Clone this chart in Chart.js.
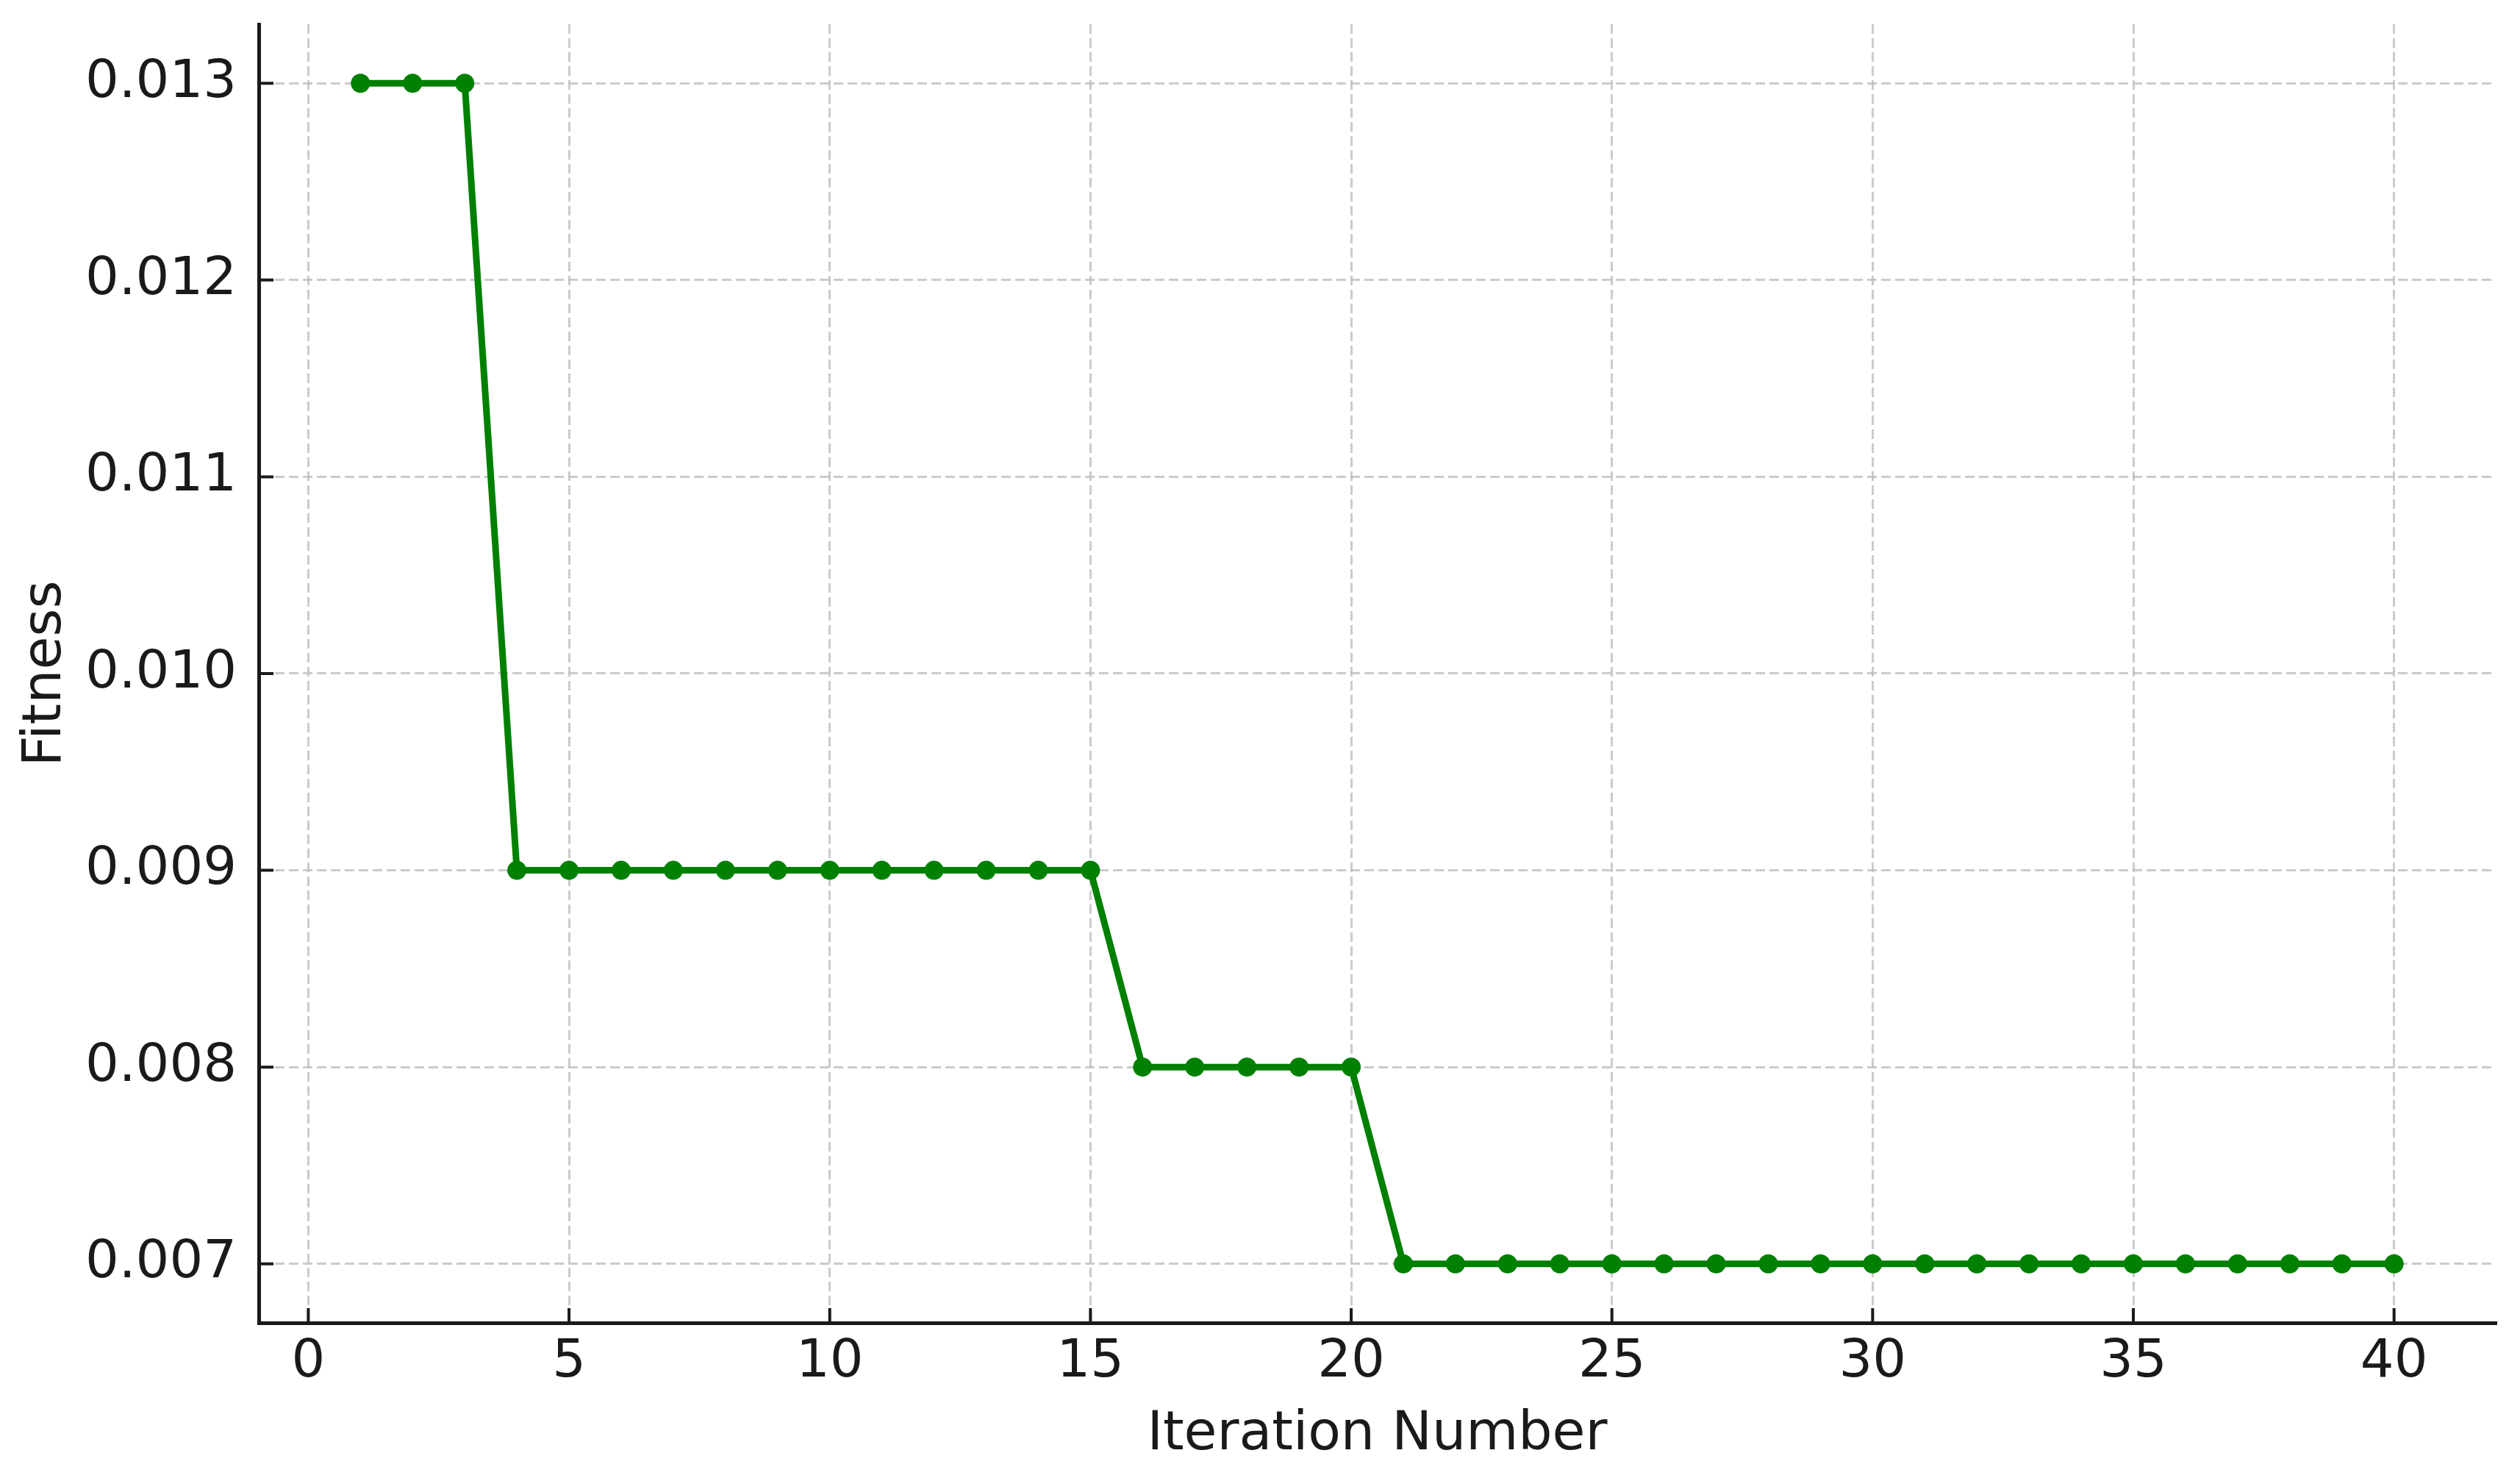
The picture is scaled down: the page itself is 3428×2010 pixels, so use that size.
<!DOCTYPE html>
<html>
<head>
<meta charset="utf-8">
<title>Fitness vs Iteration</title>
<script src="https://cdn.jsdelivr.net/npm/chart.js@4.4.1/dist/chart.umd.min.js"></script>
<style>
    html, body { margin: 0; padding: 0; background: #ffffff; }
    #wrap { width: 3428px; height: 2010px; }
</style>
</head>
<body>
<div id="wrap"><canvas id="fitnessChart" width="3428" height="2010"></canvas></div>
<script>
// data
const iterations = [1, 2, 3, 4, 5, 6, 7, 8, 9, 10, 11, 12, 13, 14, 15, 16, 17, 18, 19, 20,
    21, 22, 23, 24, 25, 26, 27, 28, 29, 30, 31, 32, 33, 34, 35, 36, 37, 38, 39, 40];
const fitness = [0.013, 0.013, 0.013,
    0.009, 0.009, 0.009, 0.009, 0.009, 0.009, 0.009, 0.009, 0.009, 0.009, 0.009, 0.009,
    0.008, 0.008, 0.008, 0.008, 0.008,
    0.007, 0.007, 0.007, 0.007, 0.007, 0.007, 0.007, 0.007, 0.007, 0.007,
    0.007, 0.007, 0.007, 0.007, 0.007, 0.007, 0.007, 0.007, 0.007, 0.007];
const xTicks = [0, 5, 10, 15, 20, 25, 30, 35, 40];
const yTicks = [0.007, 0.008, 0.009, 0.010, 0.011, 0.012, 0.013];

const inkColor = '#1a1a1a';
const gridColor = 'rgba(190, 190, 190, 0.8)';
const lineColor = '#008000';
const fontFamily = "'DejaVu Sans', 'Liberation Sans', sans-serif";

// matplotlib-style ticks pointing into the plot
const inwardTicks = {
    id: 'inwardTicks',
    afterDraw(chart) {
        const { ctx, chartArea, scales } = chart;
        const len = 20;
        ctx.save();
        ctx.strokeStyle = inkColor;
        ctx.lineWidth = 4;
        ctx.beginPath();
        scales.x.ticks.forEach(t => {
            const px = scales.x.getPixelForValue(t.value);
            ctx.moveTo(px, chartArea.bottom);
            ctx.lineTo(px, chartArea.bottom - len);
        });
        scales.y.ticks.forEach(t => {
            const py = scales.y.getPixelForValue(t.value);
            ctx.moveTo(chartArea.left, py);
            ctx.lineTo(chartArea.left + len, py);
        });
        ctx.stroke();
        ctx.restore();
    }
};

const ctx = document.getElementById('fitnessChart').getContext('2d');
new Chart(ctx, {
    type: 'line',
    data: {
        datasets: [{
            label: 'Fitness',
            data: iterations.map((it, i) => ({ x: it, y: fitness[i] })),
            borderColor: lineColor,
            backgroundColor: lineColor,
            borderWidth: 9,
            pointRadius: 13,
            pointHoverRadius: 13,
            pointBackgroundColor: lineColor,
            pointBorderWidth: 0,
            tension: 0,
            fill: false
        }]
    },
    options: {
        responsive: false,
        animation: false,
        devicePixelRatio: 1,
        layout: { padding: { top: 33, right: 33, left: 0, bottom: 0 } },
        plugins: {
            legend: { display: false },
            tooltip: { enabled: false }
        },
        scales: {
            x: {
                type: 'linear',
                min: -0.95,
                max: 41.95,
                afterBuildTicks: (scale) => { scale.ticks = xTicks.map(v => ({ value: v })); },
                afterFit: (scale) => {
                    scale.height = 211;
                    scale.paddingLeft = 0;
                    scale.paddingRight = 0;
                },
                grid: { color: gridColor, lineWidth: 3, drawTicks: false },
                border: { display: true, color: inkColor, width: 5, dash: [13, 6] },
                ticks: {
                    color: inkColor,
                    padding: 11,
                    maxRotation: 0,
                    font: { family: fontFamily, size: 72 },
                    callback: (v) => String(v)
                },
                title: {
                    display: true,
                    text: 'Iteration Number',
                    color: inkColor,
                    padding: { top: 0, bottom: 14 },
                    font: { family: fontFamily, size: 73 }
                }
            },
            y: {
                type: 'linear',
                min: 0.0067,
                max: 0.0133,
                afterBuildTicks: (scale) => { scale.ticks = yTicks.map(v => ({ value: v })); },
                afterFit: (scale) => {
                    scale.width = 352;
                    scale.paddingTop = 0;
                    scale.paddingBottom = 0;
                },
                grid: { color: gridColor, lineWidth: 3, drawTicks: false },
                border: { display: true, color: inkColor, width: 5, dash: [13, 6] },
                ticks: {
                    color: inkColor,
                    padding: 30,
                    font: { family: fontFamily, size: 72 },
                    callback: (v) => Number(v).toFixed(3)
                },
                title: {
                    display: true,
                    text: 'Fitness',
                    color: inkColor,
                    padding: { top: 19, bottom: 0 },
                    font: { family: fontFamily, size: 73 }
                }
            }
        }
    },
    plugins: [inwardTicks]
});
</script>
</body>
</html>
